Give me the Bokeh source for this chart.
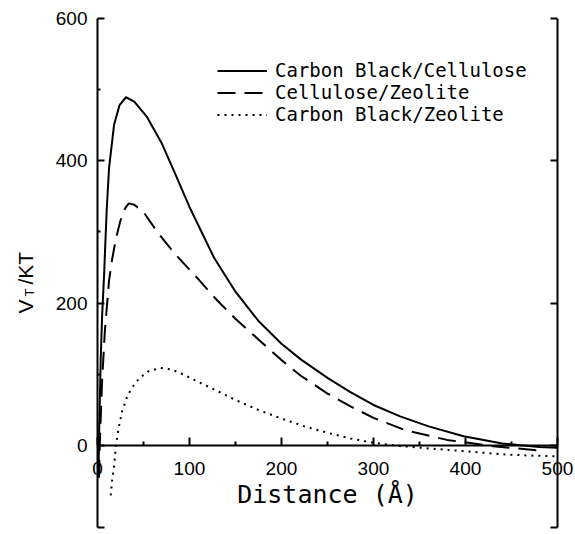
import math
from bokeh.plotting import figure
from bokeh.models import LinearAxis, Range1d, Legend, LegendItem, FixedTicker
from bokeh.embed import file_html
from bokeh.resources import INLINE
from bokeh.core.properties import value

# ---- data ----
series_names = ["Carbon Black/Cellulose", "Cellulose/Zeolite", "Carbon Black/Zeolite"]

cbcell_x = [1.0, 2, 3.5, 5, 7.2, 10, 12.6, 18, 24, 31, 40, 54, 70, 83, 100, 126.6,
            150, 175, 200, 221, 250, 275, 300, 329, 360, 398, 440, 480, 500]
cbcell_y = [-45, 30, 120, 180, 240, 330, 390, 450, 478, 489, 483, 461, 424, 386, 335, 264,
            216, 175, 143, 121, 95, 75, 57, 41, 27, 13, 3, -2, -3]

cellzeo_x = [1.5, 3, 5, 8, 12.6, 16, 20, 25, 30, 34, 40, 50, 65, 85, 108.6,
             130, 150, 175, 200, 221, 250, 275, 300, 336, 380, 430, 481]
cellzeo_y = [-45, 20, 90, 160, 232, 262, 290, 316, 333, 340, 338, 328, 300, 268, 235,
             204, 178, 149, 120, 98, 73, 55, 39, 21, 8, -1, -7]

cbzeo_x = [14.4, 16, 18, 20, 23.5, 27, 32.6, 38, 45, 55, 68, 80, 95, 108.6, 126.6,
           150, 175, 200, 225, 250, 275, 300, 325, 351, 400, 438, 470, 500]
cbzeo_y = [-70, -48, -30, 0, 28, 49, 70, 82, 94, 104, 109, 107, 99, 90, 79,
           64, 50, 38, 27, 18, 10, 4, 0, -3, -8, -12, -14, -15]

x_ticks = [0, 100, 200, 300, 400, 500]
x_minor = [50, 150, 250, 350, 450]
y_ticks = [0, 200, 400, 600]
y_minor = [100, 300, 500]
x_lim = (0, 500)
y_lim = (-115, 600)
x_title = "Distance (Å)"
y_title_parts = ["V", "T", "/KT"]

FONT = "Liberation Sans"
MONO = "DejaVu Sans Mono"

W, H = 575, 534
# frame covers the whole canvas; axes are pinned at data positions
p = figure(width=W, height=H,
           x_range=Range1d(-105.4, 519.6), y_range=Range1d(-124.8, 624.8),
           output_backend="svg", toolbar_location=None,
           min_border_left=0, min_border_right=0,
           min_border_top=0, min_border_bottom=0)
p.grid.visible = False
p.outline_line_color = None
p.background_fill_color = "white"

r1 = p.line(cbcell_x, cbcell_y, line_color="black", line_width=2)
r2 = p.line(cellzeo_x, cellzeo_y, line_color="black", line_width=2, line_dash="18 9")
r3 = p.line(cbzeo_x, cbzeo_y, line_color="black", line_width=2, line_dash="2 5")

# x axis drawn through y = 0
xa = p.xaxis[0]
xa.fixed_location = 0
xa.bounds = x_lim
xa.ticker = FixedTicker(ticks=x_ticks, minor_ticks=x_minor)
xa.axis_line_width = 2
xa.axis_line_color = "black"
xa.major_tick_in = 8
xa.major_tick_out = 0
xa.minor_tick_in = 4
xa.minor_tick_out = 0
xa.major_tick_line_width = 2
xa.minor_tick_line_width = 2
xa.major_label_text_font = FONT
xa.major_label_text_font_size = "19px"
xa.major_label_text_color = "black"
xa.major_label_standoff = 16
xa.axis_label = x_title
xa.axis_label_text_font = MONO
xa.axis_label_text_font_size = "25px"
xa.axis_label_text_font_style = "normal"
xa.axis_label_text_color = "black"
xa.axis_label_standoff = 2

ya = p.yaxis[0]
ya.fixed_location = 0
ya.bounds = y_lim
ya.ticker = FixedTicker(ticks=y_ticks + [y_lim[0]], minor_ticks=y_minor)
ya.major_label_overrides = {y_lim[0]: ""}
ya.axis_line_width = 2
ya.axis_line_color = "black"
ya.major_tick_in = 7
ya.major_tick_out = 0
ya.minor_tick_in = 3
ya.minor_tick_out = 0
ya.major_tick_line_width = 2
ya.minor_tick_line_width = 2
ya.major_label_text_font = FONT
ya.major_label_text_font_size = "19px"
ya.major_label_text_color = "black"
ya.major_label_standoff = 10

ra = LinearAxis(fixed_location=x_lim[1], bounds=y_lim,
                ticker=FixedTicker(ticks=y_ticks + [y_lim[0]]), axis_line_width=2,
                axis_line_color="black",
                major_tick_in=7, major_tick_out=0, minor_tick_line_color=None,
                major_tick_line_width=2, major_label_text_font_size="0px",
                major_label_text_color=None)
p.add_layout(ra, "right")

# rotated y title V_T/KT
tk = dict(angle=math.pi / 2, text_color="black", text_font=value(FONT),
          text_baseline="alphabetic", text_align="left")
p.text(x=[-78.3], y=[185.4], text=[y_title_parts[0]], text_font_size="21px", **tk)
p.text(x=[-73.9], y=[209.3], text=[y_title_parts[1]], text_font_size="13px", **tk)
p.text(x=[-78.3], y=[226.1], text=[y_title_parts[2]], text_font_size="21px", **tk)

legend = Legend(items=[LegendItem(label=series_names[0], renderers=[r1]),
                       LegendItem(label=series_names[1], renderers=[r2]),
                       LegendItem(label=series_names[2], renderers=[r3])],
                location=(217, 409), padding=0, margin=0, spacing=0,
                glyph_width=50, glyph_height=17, label_height=17, label_standoff=8,
                label_text_font=MONO, label_text_font_size="19px",
                label_text_color="black",
                border_line_color=None, background_fill_alpha=0)
p.add_layout(legend)

open("out.html", "w").write(file_html(p, INLINE))
